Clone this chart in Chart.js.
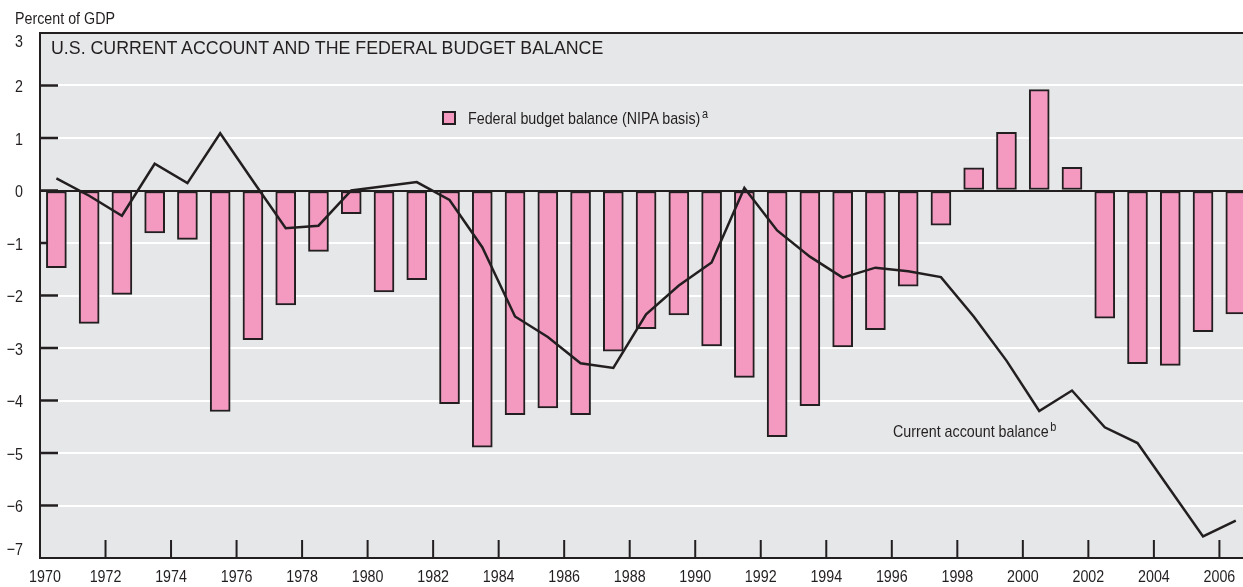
<!DOCTYPE html>
<html>
<head>
<meta charset="utf-8">
<script src="https://cdn.jsdelivr.net/npm/chart.js@4/dist/chart.umd.min.js"></script>
<style>
  html, body { margin: 0; padding: 0; background: #fff; overflow: hidden; }
  #wrap { position: relative; width: 1243px; height: 587px; }
  .txt { position: absolute; color: #231f20; white-space: nowrap; line-height: 1; }
  .narrow { font-family: "Liberation Sans", Arial, sans-serif; font-size: 17px;
    transform: scaleX(0.84); transform-origin: 0 0; }
  .sup { font-size: 13px; position: relative; top: -6px; margin-left: 2px; }
  #title { font-family: "Liberation Sans", Arial, sans-serif; font-size: 17.8px; left: 51px; top: 40px; }
  #swatch { position: absolute; left: 442px; top: 111px; width: 14px; height: 14px;
    box-sizing: border-box; border: 2px solid #231f20; background: #f49ac1; }
</style>
</head>
<body>
<div id="wrap">
  <canvas id="c"></canvas>
  <div class="txt narrow" style="left:15px; top:10px;">Percent of GDP</div>
  <div class="txt" id="title">U.S. CURRENT ACCOUNT AND THE FEDERAL BUDGET BALANCE</div>
  <div id="swatch"></div>
  <div class="txt narrow" style="left:468px; top:110px;">Federal budget balance (NIPA basis)<span class="sup">a</span></div>
  <div class="txt narrow" style="left:893px; top:423px;">Current account balance<span class="sup">b</span></div>
</div>
<script>
const INK = "#231f20";
const PINK = "#f49ac1";
const PANEL = "#e6e7e8";
const FONT = "17px 'Liberation Sans', Arial, sans-serif";
const SQUEEZE = 0.84; // the source uses a condensed face

const years = [1970, 1971, 1972, 1973, 1974, 1975, 1976, 1977, 1978, 1979,
  1980, 1981, 1982, 1983, 1984, 1985, 1986, 1987, 1988, 1989,
  1990, 1991, 1992, 1993, 1994, 1995, 1996, 1997, 1998, 1999,
  2000, 2001, 2002, 2003, 2004, 2005, 2006];

// Federal budget balance (NIPA basis), % of GDP
const budget = [-1.47, -2.53, -1.98, -0.81, -0.93, -4.21, -2.84, -2.18, -1.16, -0.44,
  -1.93, -1.70, -4.06, -4.89, -4.27, -4.14, -4.27, -3.06, -2.63, -2.37,
  -2.96, -3.56, -4.69, -4.10, -2.98, -2.65, -1.82, -0.66, 0.43, 1.11,
  1.92, 0.44, -2.43, -3.30, -3.33, -2.69, -2.35];

// Current account balance, % of GDP
const current = [0.23, -0.10, -0.48, 0.51, 0.14, 1.09, 0.18, -0.72, -0.67, 0.00,
  0.08, 0.16, -0.18, -1.08, -2.40, -2.79, -3.29, -3.38, -2.36, -1.81,
  -1.37, 0.05, -0.76, -1.26, -1.66, -1.47, -1.54, -1.65, -2.40, -3.24,
  -4.20, -3.81, -4.51, -4.81, -5.70, -6.59, -6.29];

const yTicks = [3, 2, 1, 0, -1, -2, -3, -4, -5, -6, -7];
const xTickYears = [1970, 1972, 1974, 1976, 1978, 1980, 1982, 1984, 1986, 1988,
  1990, 1992, 1994, 1996, 1998, 2000, 2002, 2004, 2006];

// each year's mark sits in the middle of its year span
const atMid = (vals) => vals.map((v, i) => ({ x: years[i] + 0.5, y: v }));
const fmtY = (v) => (v < 0 ? "\u2212" + Math.abs(v) : String(v));

function squeezedText(ctx, str, x, y, align) {
  ctx.save();
  ctx.translate(x, y);
  ctx.scale(SQUEEZE, 1);
  ctx.textAlign = align;
  ctx.fillText(str, 0, 0);
  ctx.restore();
}

const panel = {
  id: "panel",
  beforeDraw(chart) {
    const a = chart.chartArea, ctx = chart.ctx;
    ctx.save();
    ctx.fillStyle = PANEL;
    ctx.fillRect(a.left, a.top, a.right - a.left, a.bottom - a.top);
    ctx.restore();
  },
  // short inner tick marks, under the bars
  beforeDatasetsDraw(chart) {
    const a = chart.chartArea, ctx = chart.ctx;
    const xs = chart.scales.x, ys = chart.scales.y;
    ctx.save();
    ctx.strokeStyle = INK;
    ctx.lineWidth = 2.5;
    ctx.beginPath();
    ys.ticks.forEach((t) => {
      if (t.value === 3 || t.value === -7) return;
      const y = ys.getPixelForValue(t.value);
      ctx.moveTo(a.left, y);
      ctx.lineTo(a.left + 18, y);
    });
    ctx.stroke();
    ctx.lineWidth = 2;
    ctx.beginPath();
    xs.ticks.forEach((t) => {
      if (t.value === 1970) return;
      const x = xs.getPixelForValue(t.value);
      ctx.moveTo(x, a.bottom);
      ctx.lineTo(x, a.bottom - 18);
    });
    ctx.stroke();
    ctx.restore();
  },
  // axis labels in a condensed look, placed from the scales
  afterDraw(chart) {
    const a = chart.chartArea, ctx = chart.ctx;
    const xs = chart.scales.x, ys = chart.scales.y;
    ctx.save();
    ctx.fillStyle = INK;
    ctx.font = FONT;
    ctx.textBaseline = "middle";
    ys.ticks.forEach((t) => {
      const y = Math.min(Math.max(ys.getPixelForValue(t.value) + 2, a.top + 9), a.bottom - 8);
      squeezedText(ctx, fmtY(t.value), a.left - 17, y, "right");
    });
    xs.ticks.forEach((t) => {
      const x = Math.max(xs.getPixelForValue(t.value), a.left + 5);
      squeezedText(ctx, String(t.value), x, a.bottom + 19, "center");
    });
    ctx.restore();
  },
};

new Chart(document.getElementById("c"), {
  data: {
    datasets: [
      { type: "line", label: "Current account balance", data: atMid(current),
        borderColor: INK, borderWidth: 2.5, pointRadius: 0, tension: 0, order: 0 },
      { type: "bar", label: "Federal budget balance (NIPA basis)", data: atMid(budget),
        backgroundColor: PINK, borderColor: INK, borderWidth: 2, borderSkipped: false,
        barThickness: 20, order: 1 },
    ],
  },
  options: {
    responsive: true, maintainAspectRatio: false, animation: false,
    layout: { padding: { top: 33, left: 0, right: 0, bottom: 0 } },
    plugins: { legend: { display: false }, tooltip: { enabled: false } },
    scales: {
      x: {
        type: "linear", min: 1970, max: 2006.72, offset: false,
        afterBuildTicks: (s) => { s.ticks = xTickYears.map((v) => ({ value: v })); },
        afterFit: (s) => { s.height = 29; },
        grid: { drawOnChartArea: false, drawTicks: false, offset: false },
        border: { color: INK, width: 2 },
        ticks: { display: false },
      },
      y: {
        min: -7, max: 3,
        afterBuildTicks: (s) => { s.ticks = yTicks.map((v) => ({ value: v })); },
        afterFit: (s) => { s.width = 40; },
        grid: { drawTicks: false, lineWidth: 2,
          color: (c) => (c.tick && (c.tick.value === 0 || c.tick.value === 3)) ? INK : "#ffffff" },
        border: { color: INK, width: 2 },
        ticks: { display: false },
      },
    },
  },
  plugins: [panel],
});
</script>
</body>
</html>
